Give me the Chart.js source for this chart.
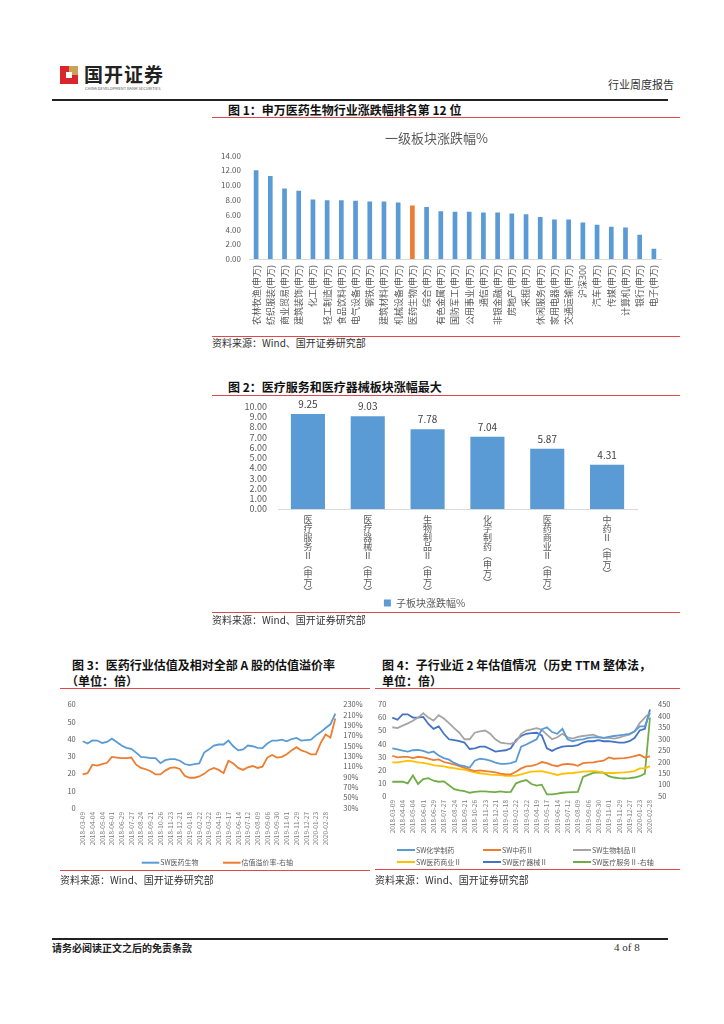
<!DOCTYPE html>
<html><head><meta charset="utf-8">
<script src="https://cdn.jsdelivr.net/npm/chart.js@4.4.1/dist/chart.umd.min.js"></script>
<style>
html,body{margin:0;padding:0;background:#fff;}
body{width:724px;height:1024px;position:relative;overflow:hidden;font-family:"Noto Sans CJK SC","Noto Sans",sans-serif;color:#222;}
.rl{position:absolute;height:1px;background:#e0484e;}
.bl{position:absolute;height:2px;background:#222;}
.ttl{position:absolute;font-size:12px;font-weight:bold;line-height:16px;white-space:nowrap;color:#111;}
.src{position:absolute;font-size:10px;line-height:12px;white-space:nowrap;color:#333;}
canvas{position:absolute;}
</style></head><body>

<!-- header -->
<div style="position:absolute;left:60px;top:66px;width:18px;height:18px;background:#d9252b;"></div>
<div style="position:absolute;left:69px;top:66px;width:9px;height:9px;background:#c9a35a;"></div>
<div style="position:absolute;left:66px;top:72px;width:6px;height:6px;background:#fff;"></div>
<div style="position:absolute;left:84px;top:63px;font-size:19px;font-weight:bold;line-height:22px;color:#222;letter-spacing:1px;">国开证券</div>
<div style="position:absolute;left:85px;top:86px;font-size:4px;line-height:4px;color:#555;white-space:nowrap;">CHINA DEVELOPMENT BANK SECURITIES</div>
<div style="position:absolute;left:608px;top:78px;font-size:11px;line-height:13px;color:#333;">行业周度报告</div>
<div class="bl" style="left:52px;top:99px;width:616px;"></div>

<!-- figure 1 -->
<div class="ttl" style="left:228px;top:102px;">图 1：申万医药生物行业涨跌幅排名第 12 位</div>
<div class="rl" style="left:212px;top:117px;width:468px;"></div>
<canvas id="c1" width="468" height="212" style="left:212px;top:122px;"></canvas>
<div class="rl" style="left:212px;top:336px;width:468px;"></div>
<div class="src" style="left:212px;top:337px;">资料来源：Wind、国开证券研究部</div>

<!-- figure 2 -->
<div class="ttl" style="left:228px;top:379px;">图 2：医疗服务和医疗器械板块涨幅最大</div>
<div class="rl" style="left:212px;top:395px;width:468px;"></div>
<canvas id="c2" width="468" height="228" style="left:212px;top:390px;"></canvas>
<div class="rl" style="left:212px;top:612px;width:468px;"></div>
<div class="src" style="left:212px;top:614px;">资料来源：Wind、国开证券研究部</div>

<!-- figure 3 -->
<div class="ttl" style="left:72px;top:657px;">图 3：医药行业估值及相对全部 A 股的估值溢价率</div>
<div class="ttl" style="left:66px;top:673px;">（单位：倍）</div>
<div class="rl" style="left:60px;top:688px;width:310px;"></div>
<canvas id="c3" width="310" height="184" style="left:60px;top:692px;"></canvas>
<div class="rl" style="left:60px;top:870px;width:310px;"></div>
<div class="src" style="left:60px;top:874px;">资料来源：Wind、国开证券研究部</div>

<!-- figure 4 -->
<div class="ttl" style="left:382px;top:657px;">图 4：子行业近 2 年估值情况（历史 TTM 整体法，</div>
<div class="ttl" style="left:382px;top:673px;">单位：倍）</div>
<div class="rl" style="left:375px;top:688px;width:305px;"></div>
<canvas id="c4" width="305" height="180" style="left:375px;top:692px;"></canvas>
<div class="rl" style="left:375px;top:869px;width:305px;"></div>
<div class="src" style="left:375px;top:874px;">资料来源：Wind、国开证券研究部</div>

<!-- footer -->
<div class="bl" style="left:52px;top:938px;width:616px;"></div>
<div style="position:absolute;left:52px;top:942px;font-size:10px;font-weight:bold;line-height:12px;color:#222;">请务必阅读正文之后的免责条款</div>
<div style="position:absolute;left:614px;top:941px;font-size:11px;line-height:13px;color:#333;font-family:'Liberation Serif',serif;">4 of 8</div>

<script>
// ---------- data ----------
const chart1Categories = ['农林牧渔(申万)','纺织服装(申万)','商业贸易(申万)','建筑装饰(申万)','化工(申万)','轻工制造(申万)','食品饮料(申万)','电气设备(申万)','钢铁(申万)','建筑材料(申万)','机械设备(申万)','医药生物(申万)','综合(申万)','有色金属(申万)','国防军工(申万)','公用事业(申万)','通信(申万)','非银金融(申万)','房地产(申万)','采掘(申万)','休闲服务(申万)','家用电器(申万)','交通运输(申万)','沪深300','汽车(申万)','传媒(申万)','计算机(申万)','银行(申万)','电子(申万)'];
const chart1Values = [12.0,11.25,9.55,9.25,8.05,7.95,7.95,7.9,7.8,7.8,7.65,7.25,7.05,6.45,6.4,6.4,6.3,6.3,6.15,6.05,5.7,5.35,5.35,4.95,4.65,4.35,4.25,3.3,1.4];
const chart1Highlight = '医药生物(申万)';
const chart1YTicks = [0,2,4,6,8,10,12,14];

const chart2Categories = ['医疗服务Ⅱ(申万)','医疗器械Ⅱ(申万)','生物制品Ⅱ(申万)','化学制药(申万)','医药商业Ⅱ(申万)','中药Ⅱ(申万)'];
const chart2Values = [9.25,9.03,7.78,7.04,5.87,4.31];
const chart2SeriesName = '子板块涨跌幅%';

const valuationTickDates = ['2018-03-09','2018-04-04','2018-05-04','2018-06-01','2018-06-29','2018-07-27','2018-08-24','2018-09-21','2018-10-26','2018-11-23','2018-12-21','2019-01-18','2019-02-22','2019-03-22','2019-04-19','2019-05-17','2019-06-14','2019-07-12','2019-08-09','2019-09-06','2019-09-30','2019-11-01','2019-11-29','2019-12-27','2020-01-23','2020-02-28'];

const chart3PE = [38.7,37.4,39.2,39.1,37.7,38.3,40.2,38.3,36.2,34.9,34.3,32.1,29.6,29.4,28.9,28.9,26.0,27.7,28.3,28.3,27.4,25.5,24.9,25.5,25.9,32.1,34.0,36.2,36.8,36.8,39.1,35.8,33.4,34.0,36.2,35.8,34.9,34.7,37.4,39.1,39.1,39.6,38.7,40.0,40.6,39.1,39.4,39.6,42.1,44.0,46.4,48.5,54.7];
const chart3Premium = [94.8,97.3,113.7,111.8,114.9,117.4,128.8,127.5,126.2,126.2,127.5,113.7,107.4,104.9,101.1,94.8,94.8,102.3,107.4,108.6,105.5,92.3,88.5,88.5,91.0,96.0,103.6,107.4,103.6,97.3,121.2,116.2,107.4,103.6,108.6,111.1,107.4,109.9,127.5,132.5,127.5,128.8,133.8,141.3,147.6,141.3,138.2,133.8,133.8,156.0,172.0,166.0,203.0];

const chart4Chem = [36.5,35.7,34.7,34.0,35.0,35.2,34.5,33.0,34.0,31.0,29.0,27.8,25.3,23.6,22.8,21.6,27.0,28.5,28.0,27.0,25.6,24.6,24.6,25.1,26.5,37.7,39.4,41.4,43.4,50.9,52.6,48.9,47.6,51.4,43.4,41.9,42.9,43.4,44.4,44.9,44.9,44.4,45.2,45.9,46.4,46.9,47.6,49.4,53.3,53.3,63.8];
const chart4TCM = [30.8,29.5,30.0,30.0,29.0,30.0,29.5,28.5,27.5,28.0,26.0,25.1,24.1,22.8,21.6,20.1,19.1,19.6,19.1,18.6,18.1,17.1,16.6,16.6,18.6,21.1,22.6,23.1,24.1,26.0,25.1,23.6,22.8,24.1,24.6,24.1,23.1,25.1,25.6,25.8,26.5,27.0,29.5,28.5,28.8,29.0,29.5,30.5,31.5,29.5,30.3];
const chart4Bio = [52.6,51.9,53.8,55.6,57.6,60.0,63.3,60.0,57.6,61.8,59.3,55.8,51.9,48.4,43.4,43.4,48.4,49.4,50.1,47.6,43.4,40.9,40.2,39.9,41.4,47.6,50.1,50.9,51.9,50.6,46.9,43.4,44.9,47.6,44.9,43.9,45.2,45.9,46.4,46.9,45.2,44.4,44.4,43.9,44.7,45.9,46.9,49.4,55.8,60.0,63.8];
const chart4Commerce = [25.8,25.8,26.3,27.0,26.5,25.8,25.3,24.6,23.6,23.1,22.6,21.8,21.3,20.6,20.1,19.1,18.1,17.4,16.9,16.4,16.1,15.9,15.4,15.4,15.6,16.6,17.6,18.6,18.9,19.1,18.1,17.1,16.1,16.9,17.4,17.6,18.1,18.6,18.9,19.1,18.6,17.9,17.6,17.6,17.9,18.1,18.4,19.1,21.1,21.1,22.8];
const chart4Device = [60.0,58.3,62.5,62.5,60.0,60.0,60.5,55.1,51.4,53.3,47.6,43.4,42.7,41.9,40.9,36.0,36.5,37.7,37.7,36.0,34.0,34.5,35.0,36.5,42.7,45.9,47.6,48.1,48.4,46.4,36.5,34.5,36.5,37.7,38.2,38.2,39.0,40.9,41.9,41.9,42.7,41.9,41.9,41.4,40.9,40.9,41.9,44.4,50.1,51.4,66.2];
const chart4Service = [112.4,112.4,112.4,105.3,139.4,102.5,123.8,128.0,116.7,112.4,113.8,96.8,79.8,74.1,71.3,64.2,68.4,69.9,69.9,68.4,67.0,69.9,67.0,68.4,105.3,113.8,119.5,102.5,95.4,99.6,57.1,57.1,59.9,64.2,65.6,67.0,68.4,133.7,142.2,150.7,153.5,152.1,136.5,130.8,128.0,126.6,128.0,130.8,136.5,147.9,393.2];

// ---------- helpers ----------
const FAM = '"Noto Sans CJK SC","Liberation Sans",sans-serif';
Chart.defaults.font.family = FAM;
Chart.defaults.animation = false;
const BLUE = '#5B9BD5', ORANGE = '#ED7D31', GRAY = '#A5A5A5', YELLOW = '#FFC000', DBLUE = '#4472C4', GREEN = '#70AD47';
const TICKC = '#595959';

function spreadLabels(n, ticks){ // one label per data point, tick text on every 2nd point
  const out = [];
  for(let i=0;i<n;i++) out.push(i%2===0 && ticks[i/2]!==undefined ? ticks[i/2] : '');
  return out;
}
function verticalLabel(s){
  return Array.from(s).map(ch => ch==='(' ? '︵' : ch===')' ? '︶' : ch);
}

const barValueLabels = {
  id:'barValueLabels',
  afterDatasetsDraw(chart, args, opts){
    if(!opts || !opts.enabled) return;
    const ctx = chart.ctx, meta = chart.getDatasetMeta(0), ds = chart.data.datasets[0];
    ctx.save();
    ctx.font = opts.font; ctx.fillStyle = opts.color;
    ctx.textAlign='center'; ctx.textBaseline='middle';
    meta.data.forEach((bar,i)=>{ ctx.fillText(ds.data[i].toFixed(2), bar.x, bar.y - opts.offset); });
    ctx.restore();
  }
};
const gridLegend = {
  id:'gridLegend',
  afterDraw(chart, args, opts){
    if(!opts || !opts.enabled) return;
    const ctx = chart.ctx;
    ctx.save();
    ctx.font = opts.font; ctx.textBaseline='middle'; ctx.textAlign='left';
    chart.data.datasets.forEach((ds,i)=>{
      const x = opts.cols[i % opts.cols.length];
      const y = opts.rows[Math.floor(i / opts.cols.length)];
      ctx.strokeStyle = ds.borderColor; ctx.lineWidth = 2;
      ctx.beginPath(); ctx.moveTo(x,y); ctx.lineTo(x+opts.lineLen,y); ctx.stroke();
      ctx.fillStyle = opts.color;
      ctx.fillText(ds.label, x+opts.lineLen+1, y);
    });
    ctx.restore();
  }
};

// ---------- chart 1 ----------
new Chart(document.getElementById('c1'), {
  type:'bar',
  data:{ labels: chart1Categories,
    datasets:[{ label:'一级板块涨跌幅%', data: chart1Values,
      backgroundColor: chart1Categories.map(c => c===chart1Highlight ? ORANGE : BLUE),
      barPercentage:0.33, categoryPercentage:1 }]},
  options:{ responsive:false,
    layout:{padding:{top:0,right:19,bottom:0,left:0}},
    plugins:{ legend:{display:false}, tooltip:{enabled:false},
      title:{display:true, text:'一级板块涨跌幅%', color:TICKC, font:{size:13, weight:'normal'}, padding:{top:8,bottom:10}} },
    scales:{
      x:{ grid:{display:false, drawTicks:false}, border:{color:'#d9d9d9'},
          ticks:{autoSkip:false, maxRotation:90, minRotation:90, font:{size:9}, color:TICKC, padding:6},
          afterFit(s){ s.height = 75; } },
      y:{ min:0, max:14, grid:{display:false, drawTicks:false}, border:{display:false},
          afterBuildTicks(s){ s.ticks = chart1YTicks.map(v=>({value:v})); },
          ticks:{ autoSkip:false, callback:v=>Number(v).toFixed(2), font:{size:8}, color:TICKC, padding:8 },
          afterFit(s){ s.width = 37; } }
    }
  }
});

// ---------- chart 2 ----------
new Chart(document.getElementById('c2'), {
  type:'bar',
  data:{ labels: chart2Categories.map(verticalLabel),
    datasets:[{ label: chart2SeriesName, data: chart2Values, backgroundColor: BLUE,
      barPercentage:0.57, categoryPercentage:1 }]},
  plugins:[barValueLabels],
  options:{ responsive:false,
    layout:{padding:{top:11,right:43,bottom:0,left:0}},
    plugins:{ tooltip:{enabled:false},
      legend:{display:true, position:'bottom',
        labels:{font:{size:10}, color:TICKC, boxWidth:7, boxHeight:7, padding:4}},
      barValueLabels:{enabled:true, font:'10px '+FAM, color:'#404040', offset:10} },
    scales:{
      x:{ grid:{display:false, drawTicks:false}, border:{color:'#d9d9d9'},
          ticks:{autoSkip:false, maxRotation:0, minRotation:0, font:{size:9, lineHeight:1}, color:TICKC, padding:6},
          afterFit(s){ s.height = 85; } },
      y:{ min:0, max:10, grid:{display:false, drawTicks:false}, border:{display:false},
          ticks:{ autoSkip:false, stepSize:1, callback:v=>Number(v).toFixed(2), font:{size:9}, color:TICKC, padding:11 },
          afterFit(s){ s.width = 66; } }
    }
  }
});

// ---------- chart 3 ----------
new Chart(document.getElementById('c3'), {
  type:'line',
  data:{ labels: spreadLabels(chart3PE.length, valuationTickDates),
    datasets:[
      { label:'SW医药生物', data: chart3PE, borderColor: BLUE, borderWidth:1.8, pointRadius:0, yAxisID:'y', tension:0 },
      { label:'估值溢价率-右轴', data: chart3Premium, borderColor: ORANGE, borderWidth:1.8, pointRadius:0, yAxisID:'y1', tension:0 }
    ]},
  plugins:[gridLegend],
  options:{ responsive:false,
    layout:{padding:{top:10,right:0,bottom:22,left:0}},
    plugins:{ legend:{display:false}, tooltip:{enabled:false},
      gridLegend:{enabled:true, font:'7px '+FAM, color:TICKC, cols:[81.7,163], rows:[170.7], lineLen:17.6} },
    scales:{
      x:{ offset:false, grid:{display:false, drawTicks:false}, border:{display:false},
          ticks:{autoSkip:false, maxRotation:90, minRotation:90, font:{size:6.5}, color:'#7f7f7f', padding:4},
          afterFit(s){ s.height = 46; } },
      y:{ position:'left', min:0, max:60, grid:{display:false, drawTicks:false}, border:{display:false},
          ticks:{autoSkip:false, stepSize:10, font:{size:7.5}, color:TICKC, padding:7},
          afterFit(s){ s.width = 22.7; } },
      y1:{ position:'right', min:30, max:230, grid:{display:false, drawTicks:false}, border:{display:false},
          ticks:{autoSkip:false, stepSize:20, callback:v=>v+'%', font:{size:7.5}, color:TICKC, padding:8},
          afterFit(s){ s.width = 34.7; } }
    }
  }
});

// ---------- chart 4 ----------
new Chart(document.getElementById('c4'), {
  type:'line',
  data:{ labels: spreadLabels(chart4Chem.length, valuationTickDates),
    datasets:[
      { label:'SW化学制药', data: chart4Chem, borderColor: BLUE, borderWidth:1.8, pointRadius:0, yAxisID:'y', tension:0 },
      { label:'SW中药Ⅱ', data: chart4TCM, borderColor: ORANGE, borderWidth:1.8, pointRadius:0, yAxisID:'y', tension:0 },
      { label:'SW生物制品Ⅱ', data: chart4Bio, borderColor: GRAY, borderWidth:1.8, pointRadius:0, yAxisID:'y', tension:0 },
      { label:'SW医药商业Ⅱ', data: chart4Commerce, borderColor: YELLOW, borderWidth:1.8, pointRadius:0, yAxisID:'y', tension:0 },
      { label:'SW医疗器械Ⅱ', data: chart4Device, borderColor: DBLUE, borderWidth:1.8, pointRadius:0, yAxisID:'y', tension:0 },
      { label:'SW医疗服务Ⅱ-右轴', data: chart4Service, borderColor: GREEN, borderWidth:1.8, pointRadius:0, yAxisID:'y1', tension:0 }
    ]},
  plugins:[gridLegend],
  options:{ responsive:false,
    layout:{padding:{top:10,right:0,bottom:30,left:0}},
    plugins:{ legend:{display:false}, tooltip:{enabled:false},
      gridLegend:{enabled:true, font:'7px '+FAM, color:TICKC, cols:[22,108,198], rows:[158,170], lineLen:18} },
    scales:{
      x:{ offset:false, grid:{display:false, drawTicks:false}, border:{display:false},
          ticks:{autoSkip:false, maxRotation:90, minRotation:90, font:{size:6.5}, color:'#7f7f7f', padding:4},
          afterFit(s){ s.height = 46; } },
      y:{ position:'left', min:0, max:70, grid:{display:false, drawTicks:false}, border:{display:false},
          ticks:{autoSkip:false, stepSize:10, font:{size:7.5}, color:TICKC, padding:6},
          afterFit(s){ s.width = 17.3; } },
      y1:{ position:'right', min:50, max:450, grid:{display:false, drawTicks:false}, border:{display:false},
          ticks:{autoSkip:false, stepSize:50, font:{size:7.5}, color:TICKC, padding:8},
          afterFit(s){ s.width = 30; } }
    }
  }
});
</script>
</body></html>
